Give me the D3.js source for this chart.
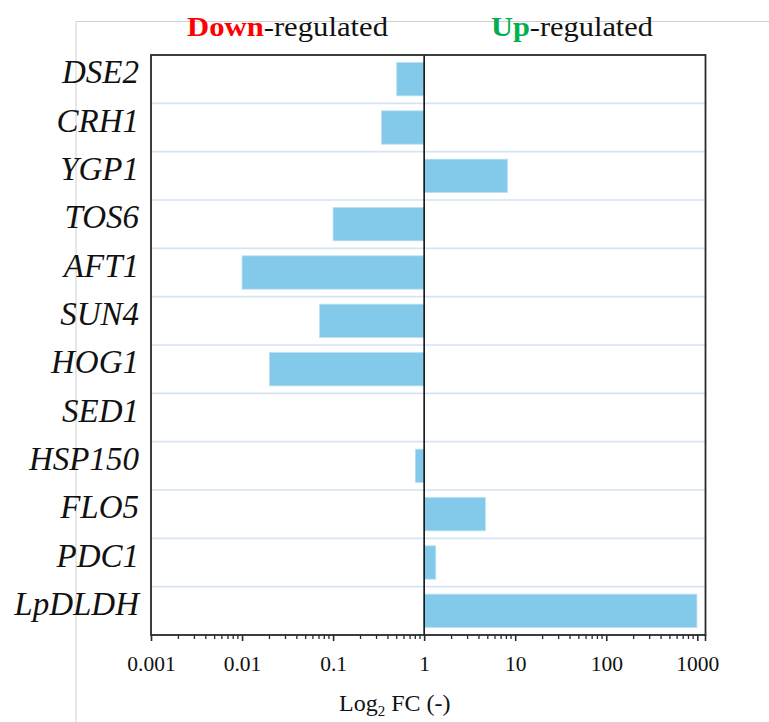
<!DOCTYPE html>
<html>
<head>
<meta charset="utf-8">
<script src="https://cdn.jsdelivr.net/npm/d3@7"></script>
<style>
  html, body { margin: 0; padding: 0; background: #fff; }
  svg { display: block; }
  text { font-family: "Palatino Linotype", "Book Antiqua", Palatino, "Liberation Serif", serif; }
</style>
</head>
<body>
<svg id="chart" width="769" height="722"></svg>
<script>
// Genes, top to bottom
const genes = ["DSE2", "CRH1", "YGP1", "TOS6", "AFT1", "SUN4", "HOG1", "SED1", "HSP150", "FLO5", "PDC1", "LpDLDH"];
// Fold change relative to control (bars start at 1)
const foldChange = [0.50, 0.34, 8.2, 0.10, 0.01, 0.071, 0.020, 1.0, 0.80, 4.7, 1.34, 990];
// Major tick values and labels on the log axis
const tickValues = [0.001, 0.01, 0.1, 1, 10, 100, 1000];
const tickLabels = ["0.001", "0.01", "0.1", "1", "10", "100", "1000"];

const svg = d3.select("#chart");

const frame = { left: 151, right: 705.5, top: 55, bottom: 635 };

const x = d3.scaleLog().domain([0.001, 1000]).range([151, 697.3]);
const y = d3.scaleBand().domain(genes).range([frame.top, frame.bottom]).paddingInner(0.31).paddingOuter(0.155);
const band = d3.scaleBand().domain(genes).range([frame.top, frame.bottom]);

// Outer light-grey border
svg.append("path")
  .attr("d", `M76,722 V21.5 H769`)
  .attr("fill", "none")
  .attr("stroke", "#d0d0d0")
  .attr("stroke-width", 1);

// Row separators
svg.append("g").selectAll("line")
  .data(genes.slice(1))
  .join("line")
  .attr("x1", frame.left).attr("x2", frame.right)
  .attr("y1", d => band(d)).attr("y2", d => band(d))
  .attr("stroke", "#d6e3f4")
  .attr("stroke-width", 1.6);

// Bars from 1 to the fold change
svg.append("g").selectAll("rect")
  .data(genes.map((g, i) => ({ gene: g, v: foldChange[i] })))
  .join("rect")
  .attr("x", d => Math.min(x(1), x(d.v)))
  .attr("width", d => Math.abs(x(d.v) - x(1)))
  .attr("y", d => y(d.gene))
  .attr("height", y.bandwidth())
  .attr("fill", "#83c9e9")
  .attr("stroke", "#b9e0f3")
  .attr("stroke-width", 0.8);

// Reference line at FC = 1
svg.append("line")
  .attr("x1", x(1)).attr("x2", x(1))
  .attr("y1", frame.top).attr("y2", frame.bottom)
  .attr("stroke", "#111")
  .attr("stroke-width", 1.6);

// Plot frame
svg.append("rect")
  .attr("x", frame.left).attr("y", frame.top)
  .attr("width", frame.right - frame.left)
  .attr("height", frame.bottom - frame.top)
  .attr("fill", "none")
  .attr("stroke", "#2a2a2a")
  .attr("stroke-width", 1.8);

// Log axis: major and minor ticks
const axisG = svg.append("g").attr("transform", `translate(0,${frame.bottom})`);
axisG.call(
  d3.axisBottom(x)
    .tickValues(tickValues)
    .tickFormat((d, i) => tickLabels[i])
    .tickSizeInner(6)
    .tickSizeOuter(0)
    .tickPadding(15)
);
axisG.select(".domain").remove();
axisG.selectAll(".tick line").attr("stroke", "#2a2a2a").attr("stroke-width", 1.6);
axisG.selectAll(".tick text")
  .attr("font-size", 21.5)
  .attr("fill", "#111")
  .style("font-family", "'Palatino Linotype','Book Antiqua',Palatino,'Liberation Serif',serif");

const minor = [];
for (let e = -3; e < 3; e++) {
  for (let m = 2; m <= 9; m++) minor.push(m * Math.pow(10, e));
}
axisG.append("g").selectAll("line")
  .data(minor)
  .join("line")
  .attr("x1", d => x(d)).attr("x2", d => x(d))
  .attr("y1", 0).attr("y2", 4)
  .attr("stroke", "#2a2a2a")
  .attr("stroke-width", 1.3);
axisG.append("line")
  .attr("x1", frame.right).attr("x2", frame.right)
  .attr("y1", 0).attr("y2", 6)
  .attr("stroke", "#2a2a2a").attr("stroke-width", 1.6);

// Gene labels
svg.append("g").selectAll("text")
  .data(genes)
  .join("text")
  .attr("x", 139)
  .attr("y", d => band(d) + band.bandwidth() / 2 + 4)
  .attr("text-anchor", "end")
  .attr("font-size", 33)
  .attr("font-style", "italic")
  .attr("fill", "#111")
  .text(d => d);

// Direction headers
const down = svg.append("text")
  .attr("x", 187).attr("y", 36)
  .attr("font-size", 27)
  .attr("textLength", 201)
  .attr("lengthAdjust", "spacingAndGlyphs");
down.append("tspan").attr("fill", "#ff0000").attr("font-weight", "bold").text("Down");
down.append("tspan").attr("fill", "#111").text("-regulated");

const up = svg.append("text")
  .attr("x", 491).attr("y", 36)
  .attr("font-size", 27)
  .attr("textLength", 162)
  .attr("lengthAdjust", "spacingAndGlyphs");
up.append("tspan").attr("fill", "#00b050").attr("font-weight", "bold").text("Up");
up.append("tspan").attr("fill", "#111").text("-regulated");

// Axis title
const xt = svg.append("text")
  .attr("x", 339).attr("y", 711)
  .attr("font-size", 24)
  .attr("fill", "#111");
xt.append("tspan").text("Log");
xt.append("tspan").attr("font-size", 15).attr("dy", 5).text("2");
xt.append("tspan").attr("dy", -5).text(" FC (-)");
</script>
</body>
</html>
